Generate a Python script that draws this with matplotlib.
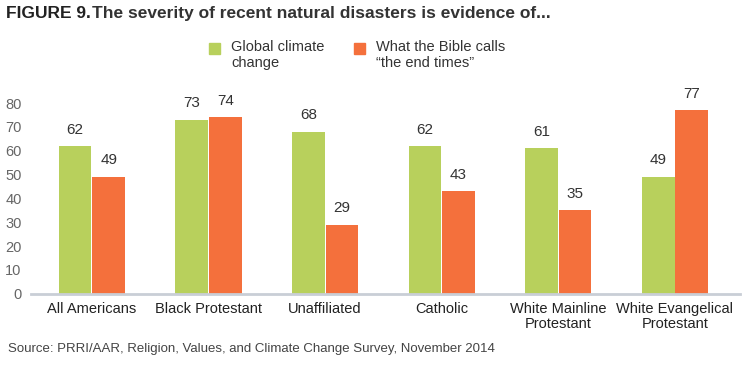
import numpy as np
import matplotlib.pyplot as plt

groups = ["All Americans", "Black Protestant", "Unaffiliated", "Catholic",
          "White Mainline\nProtestant", "White Evangelical\nProtestant"]
climate = [62, 73, 68, 62, 61, 49]
end_times = [49, 74, 29, 43, 35, 77]
yticks = [0, 10, 20, 30, 40, 50, 60, 70, 80]

green = '#b8d05c'
orange = '#f4703c'

plt.rcParams['font.family'] = ['Liberation Sans', 'DejaVu Sans']

fig = plt.figure(figsize=(7.44, 3.65), dpi=100)
ax = fig.add_axes([0.042, 0.195, 0.953, 0.542])

x = np.arange(len(groups))
w = 0.28
b1 = ax.bar(x - w/2 - 0.004, climate, w, color=green, edgecolor='none')
b2 = ax.bar(x + w/2 + 0.004, end_times, w, color=orange, edgecolor='none')

for bars, vals in ((b1, climate), (b2, end_times)):
    for r, v in zip(bars, vals):
        ax.text(r.get_x() + r.get_width()/2, v + 4, str(v), ha='center', va='bottom',
                fontsize=11, color='#333333')

ax.set_xlim(-0.52, 5.56)
ax.set_ylim(0, 83)
ax.set_yticks(yticks)
ax.set_xticks(x)
ax.set_xticklabels(groups, fontsize=10.5, color='#222222', linespacing=1.1, va='top')
ax.tick_params(axis='y', length=0, labelsize=10.5, labelcolor='#666666', pad=7)
ax.tick_params(axis='x', length=0, pad=6)
for s in ['top', 'right', 'left']:
    ax.spines[s].set_visible(False)
ax.spines['bottom'].set_color('#c9ced6')
ax.spines['bottom'].set_linewidth(2)

fig.text(0.008, 0.962, "FIGURE 9.", fontsize=12.5, fontweight='bold', color='#222222', va='center')
fig.text(0.123, 0.962, "The severity of recent natural disasters is evidence of...",
         fontsize=12.5, fontweight='bold', color='#333333', va='center')

# legend
fig.patches.append(plt.Rectangle((209/744, 1 - 54/365), 11/744, 11/365,
                                 transform=fig.transFigure, color=green))
fig.text(231/744, 1 - 40/365, "Global climate\nchange", fontsize=10.5, color='#333333',
         va='top', linespacing=1.2)
fig.patches.append(plt.Rectangle((354/744, 1 - 54/365), 11/744, 11/365,
                                 transform=fig.transFigure, color=orange))
fig.text(376/744, 1 - 40/365, "What the Bible calls\n\u201cthe end times\u201d", fontsize=10.5,
         color='#333333', va='top', linespacing=1.2)

fig.text(0.011, 1 - 349/365, "Source: PRRI/AAR, Religion, Values, and Climate Change Survey, November 2014",
         fontsize=9.5, color='#444444', va='center')

fig.savefig('out.png', dpi=100)
